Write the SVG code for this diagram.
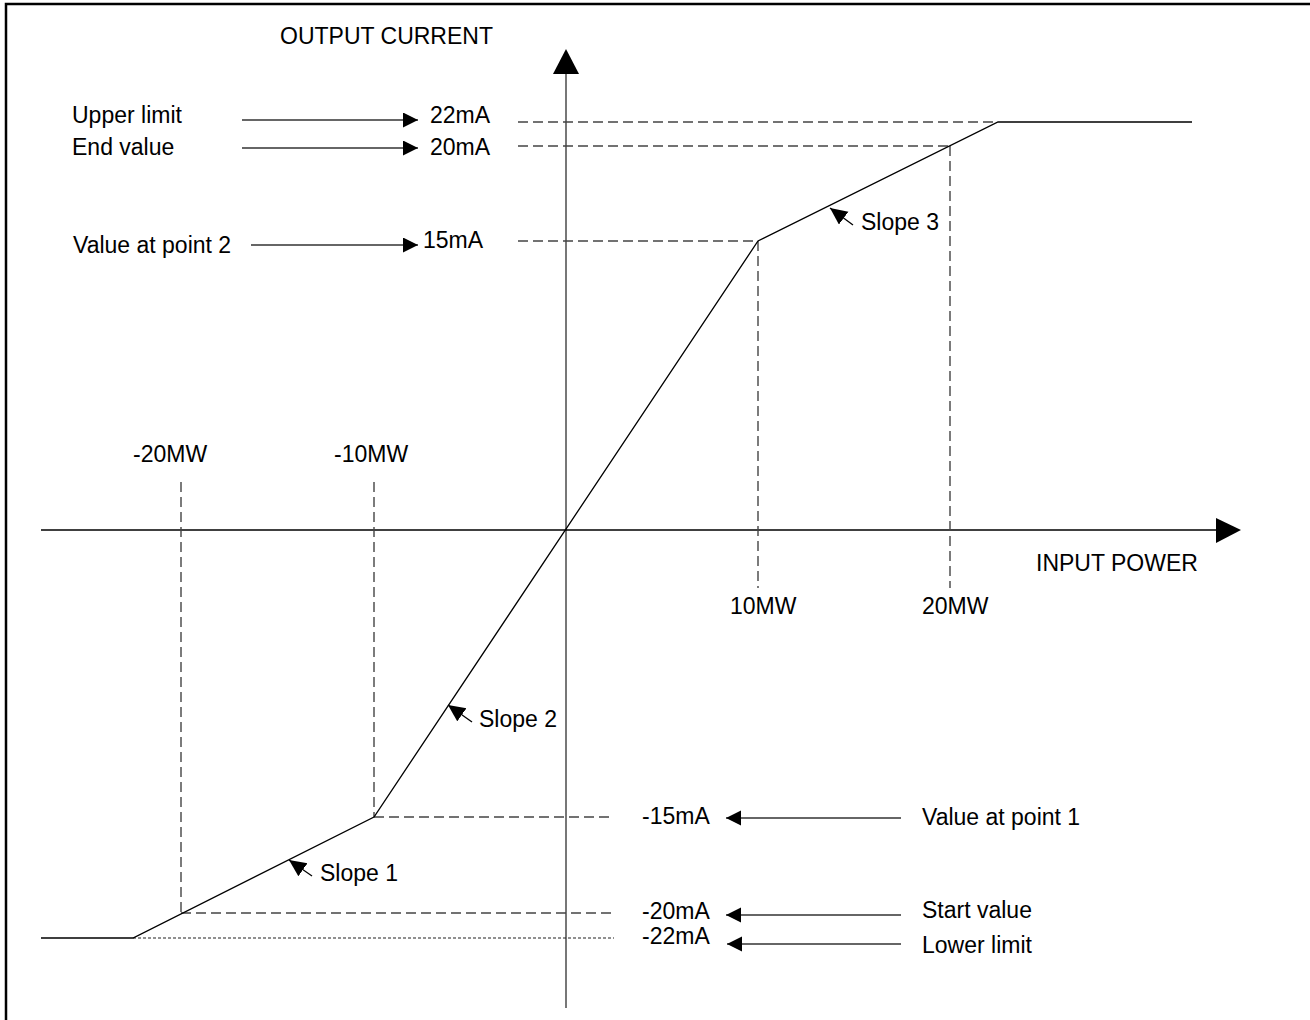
<svg xmlns="http://www.w3.org/2000/svg" width="1310" height="1020" viewBox="0 0 1310 1020">
<style>
text{font-family:"Liberation Sans",Arial,sans-serif;font-size:23px;fill:#000}
.ax{stroke:#000;stroke-width:1.5;fill:none}
.yax{stroke:#777;stroke-width:2;fill:none}
.curve{stroke:#000;stroke-width:1.3;fill:none}
.dash{stroke:#444;stroke-width:1.4;stroke-dasharray:10 5;fill:none}
.dot{stroke:#222;stroke-width:1.2;stroke-dasharray:3 2;fill:none}
.arr{stroke:#333;stroke-width:1.5;fill:none;marker-end:url(#ah)}
.sl{stroke:#000;stroke-width:1.3;fill:none;marker-end:url(#sh)}
</style>
<defs>
<marker id="ah" markerUnits="userSpaceOnUse" markerWidth="16" markerHeight="16" refX="15" refY="7.5" orient="auto"><path d="M0,0 L15,7.5 L0,15 Z" fill="#000"/></marker>
<marker id="sh" markerUnits="userSpaceOnUse" markerWidth="20" markerHeight="18" refX="17" refY="8" orient="auto"><path d="M0,0 L17,8 L0,16 Z" fill="#000"/></marker>
</defs>
<rect width="1310" height="1020" fill="#fff"/>
<g id="frame" stroke="#000" stroke-width="2.5" fill="none">
<path d="M6,1020 V4 H1310"/>
</g>
<g id="axes">
<line class="yax" x1="566" y1="72" x2="566" y2="1008"/>
<path d="M566,49 L553,74 L579,74 Z" fill="#000"/>
<line class="ax" x1="41" y1="530" x2="1217" y2="530"/>
<path d="M1241,530 L1216,518 L1216,543 Z" fill="#000"/>
<text x="280" y="44">OUTPUT CURRENT</text>
<text x="1036" y="571">INPUT POWER</text>
</g>
<g id="guides">
<line class="dash" x1="518" y1="122" x2="998" y2="122"/>
<line class="dash" x1="518" y1="146" x2="950" y2="146"/>
<line class="dash" x1="518" y1="241" x2="758" y2="241"/>
<line class="dash" x1="758" y1="241" x2="758" y2="588"/>
<line class="dash" x1="950" y1="146" x2="950" y2="588"/>
<line class="dash" x1="181" y1="482" x2="181" y2="913"/>
<line class="dash" x1="374" y1="482" x2="374" y2="817"/>
<line class="dash" x1="374" y1="817" x2="614" y2="817"/>
<line class="dash" x1="181" y1="913" x2="614" y2="913"/>
<line class="dot" x1="133" y1="938" x2="614" y2="938"/>
</g>
<g id="curve">
<polyline class="curve" points="41,938 133,938 374,817 758,241 998,122 1192,122"/>
</g>
<g id="connectors">
<line class="arr" x1="242" y1="120" x2="418" y2="120"/>
<line class="arr" x1="242" y1="148" x2="418" y2="148"/>
<line class="arr" x1="251" y1="245" x2="418" y2="245"/>
<line class="arr" x1="901" y1="818" x2="726" y2="818"/>
<line class="arr" x1="901" y1="915" x2="726" y2="915"/>
<line class="arr" x1="901" y1="944" x2="727" y2="944"/>
<line class="sl" x1="853" y1="225" x2="830" y2="208"/>
<line class="sl" x1="472" y1="722" x2="448" y2="705"/>
<line class="sl" x1="312" y1="876" x2="289" y2="860"/>
</g>
<g id="label-upper-limit"><text x="72" y="123">Upper limit</text></g>
<g id="label-end-value"><text x="72" y="155">End value</text></g>
<g id="label-point2"><text x="73" y="253">Value at point 2</text></g>
<g id="label-22mA"><text x="430" y="123">22mA</text></g>
<g id="label-20mA"><text x="430" y="155">20mA</text></g>
<g id="label-15mA"><text x="423" y="248">15mA</text></g>
<g id="label-m15mA"><text x="642" y="824">-15mA</text></g>
<g id="label-m20mA"><text x="642" y="919">-20mA</text></g>
<g id="label-m22mA"><text x="642" y="944">-22mA</text></g>
<g id="label-point1"><text x="922" y="825">Value at point 1</text></g>
<g id="label-start"><text x="922" y="918">Start value</text></g>
<g id="label-lower"><text x="922" y="953">Lower limit</text></g>
<g id="label-m20MW"><text x="133" y="462">-20MW</text></g>
<g id="label-m10MW"><text x="334" y="462">-10MW</text></g>
<g id="label-10MW"><text x="730" y="614">10MW</text></g>
<g id="label-20MW"><text x="922" y="614">20MW</text></g>
<g id="label-slope3"><text x="861" y="230">Slope 3</text></g>
<g id="label-slope2"><text x="479" y="727">Slope 2</text></g>
<g id="label-slope1"><text x="320" y="881">Slope 1</text></g>
</svg>
